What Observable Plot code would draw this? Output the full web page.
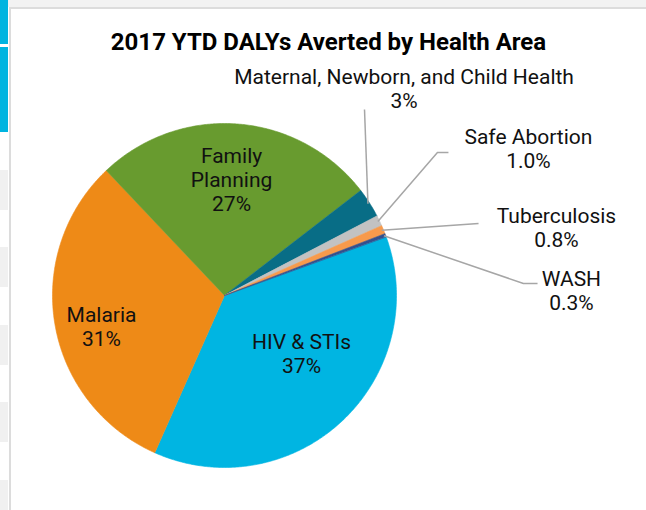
<!DOCTYPE html>
<html>
<head>
<meta charset="utf-8">
<script src="https://cdn.jsdelivr.net/npm/d3@7"></script>
<script src="https://cdn.jsdelivr.net/npm/@observablehq/plot@0.6"></script>
<style>
  html, body { margin: 0; padding: 0; }
  body { width: 646px; height: 510px; overflow: hidden; background: #ffffff; position: relative; font-family: Roboto, "Liberation Sans", sans-serif; }
  .deco { position: absolute; }
  #panel { position: absolute; left: 11px; top: 9px; width: 635px; height: 501px; background: #ffffff; }
  #title { height: 51px; box-sizing: border-box; padding-top: 19px; text-align: center; font-size: 24px; line-height: 28px; font-weight: 700; color: #000; white-space: nowrap; }
  #chart svg { display: block; background: transparent; }
</style>
</head>
<body>
<!-- surrounding spreadsheet UI -->
<div class="deco" style="left:0;top:0;width:646px;height:7px;background:#f2f2f2"></div>
<div class="deco" style="left:9px;top:7px;width:637px;height:2px;background:#dcdcdc"></div>
<div class="deco" style="left:9px;top:7px;width:2px;height:503px;background:#dcdcdc"></div>
<div class="deco" style="left:0;top:0;width:8px;height:44px;background:#00b4e0"></div>
<div class="deco" style="left:0;top:47px;width:8px;height:85px;background:#00b4e0"></div>
<div class="deco" style="left:0;top:170px;width:8px;height:40px;background:#f0f0f0"></div>
<div class="deco" style="left:0;top:247px;width:8px;height:40px;background:#f0f0f0"></div>
<div class="deco" style="left:0;top:325px;width:8px;height:40px;background:#f0f0f0"></div>
<div class="deco" style="left:0;top:402px;width:8px;height:40px;background:#f0f0f0"></div>
<div class="deco" style="left:0;top:480px;width:8px;height:30px;background:#f0f0f0"></div>

<div id="panel">
  <div id="title">2017 YTD DALYs Averted by Health Area</div>
  <div id="chart"></div>
</div>

<script>
// ---- data ----
const areas = ["HIV & STIs", "Malaria", "Family Planning", "Maternal, Newborn, and Child Health", "Safe Abortion", "Tuberculosis", "WASH"];
const shares = [37.2, 31.3, 26.6, 2.8, 1.0, 0.8, 0.3];
const shareLabels = ["37%", "31%", "27%", "3%", "1.0%", "0.8%", "0.3%"];
const areaLabels = ["HIV & STIs", "Malaria", "Family\nPlanning", "Maternal, Newborn, and Child Health", "Safe Abortion", "Tuberculosis", "WASH"];

// ---- styles / layout ----
const sliceColors = ["#00b5e2", "#ee8a17", "#689b2f", "#086d86", "#c2c2c2", "#f79a4c", "#33508d"];
const firstSliceAngle = 70; // degrees, clockwise from 12 o'clock
// label centres in pie-radius units (origin = pie centre, y up)
const labelPos = {
  "HIV & STIs": [0.448, -0.337],
  "Malaria": [-0.715, -0.180],
  "Family Planning": [0.041, 0.674],
  "Maternal, Newborn, and Child Health": [1.044, 1.206],
  "Safe Abortion": [1.767, 0.858],
  "Tuberculosis": [1.930, 0.395],
  "WASH": [2.017, 0.029]
};
// leader line bends/ends in pie-radius units
const leaderPath = {
  "Maternal, Newborn, and Child Health": [[0.814, 1.081]],
  "Safe Abortion": [[1.238, 0.831], [1.302, 0.831]],
  "Tuberculosis": [[1.477, 0.419]],
  "WASH": [[1.738, 0.070], [1.820, 0.070]]
};

const W = 635, H = 450, cx = 213, cy = 235, R = 172;

const rows = areas.map((name, i) => ({name, value: shares[i], i}));
const toRad = Math.PI / 180;
const pie = d3.pie().sort(null).value(d => d.value)
  .startAngle(firstSliceAngle * toRad).endAngle((firstSliceAngle + 360) * toRad);
const arcs = pie(rows);

const polys = arcs.flatMap(a => {
  const n = Math.max(2, Math.ceil((a.endAngle - a.startAngle) / (0.5 * toRad)));
  const pts = [{name: a.data.name, x: 0, y: 0}];
  for (let k = 0; k <= n; k++) {
    const t = a.startAngle + (a.endAngle - a.startAngle) * k / n;
    pts.push({name: a.data.name, x: Math.sin(t), y: Math.cos(t)});
  }
  return pts;
});

const leaders = arcs.filter(a => leaderPath[a.data.name]).flatMap(a => {
  const m = (a.startAngle + a.endAngle) / 2;
  const pts = [{name: a.data.name, x: 0.99 * Math.sin(m), y: 0.99 * Math.cos(m)}];
  for (const [x, y] of leaderPath[a.data.name]) pts.push({name: a.data.name, x, y});
  return pts;
});

const labels = rows.map((d, i) => ({
  text: areaLabels[i] + "\n" + shareLabels[i],
  x: labelPos[d.name][0],
  y: labelPos[d.name][1]
}));

const chart = Plot.plot({
  width: W,
  height: H,
  margin: 0,
  style: {background: "transparent", fontFamily: "Roboto, sans-serif"},
  x: {domain: [-cx / R, (W - cx) / R], axis: null},
  y: {domain: [-(H - cy) / R, cy / R], axis: null},
  color: {domain: areas, range: sliceColors},
  marks: [
    Plot.line(polys, {x: "x", y: "y", z: "name", fill: "name", stroke: "name", strokeWidth: 0.6, curve: "linear-closed"}),
    Plot.line(leaders, {x: "x", y: "y", z: "name", stroke: "#a6a6a6", strokeWidth: 1.5, strokeLinejoin: "miter", strokeLinecap: "butt"}),
    Plot.text(labels, {x: "x", y: "y", text: "text", fontSize: 21, lineHeight: 1.14, textAnchor: "middle", lineAnchor: "middle", fill: "#111"})
  ]
});
document.getElementById("chart").append(chart);
</script>
</body>
</html>
